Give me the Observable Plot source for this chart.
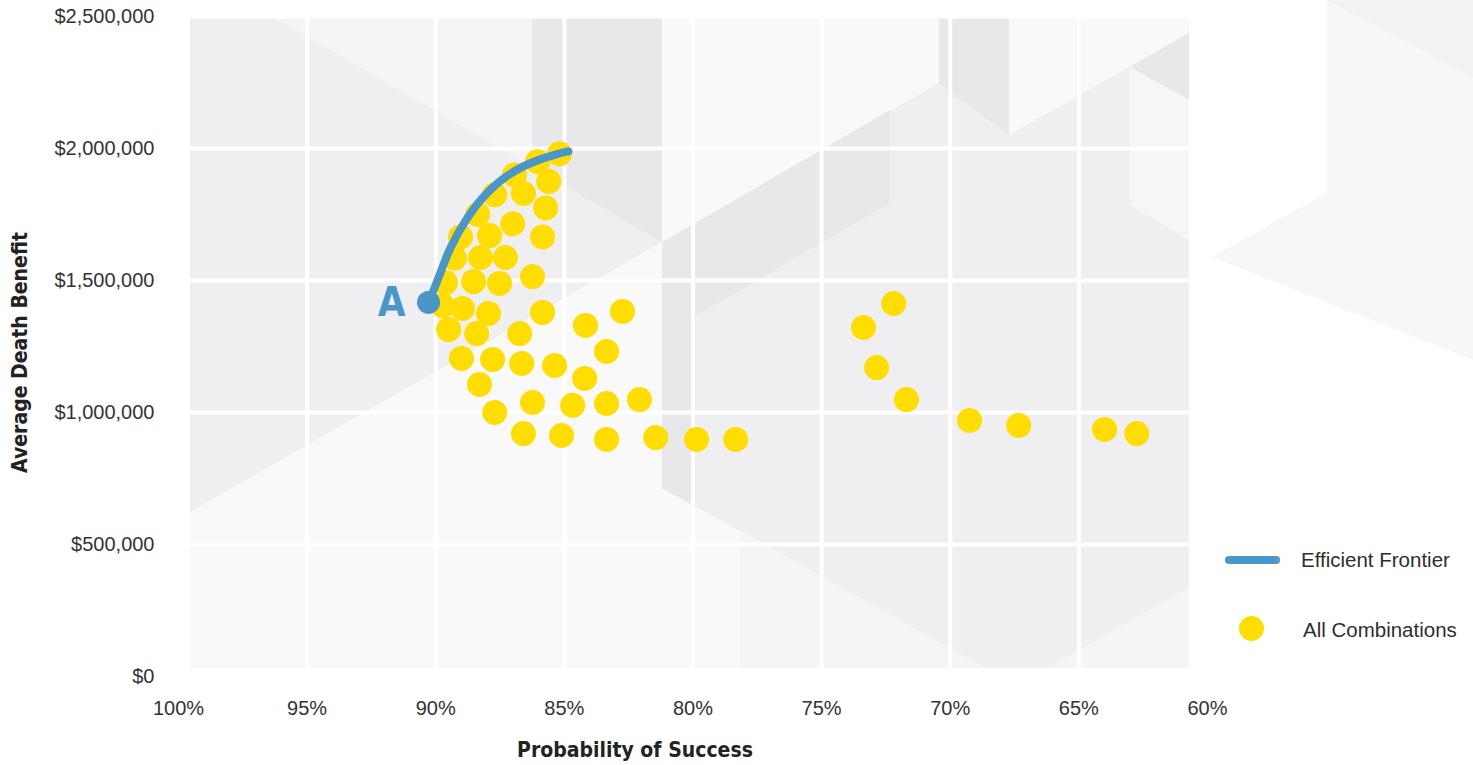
<!DOCTYPE html>
<html>
<head>
<meta charset="utf-8">
<script src="https://cdn.jsdelivr.net/npm/d3@7"></script>
<script src="https://cdn.jsdelivr.net/npm/@observablehq/plot@0.6"></script>
<style>
  html, body { margin: 0; padding: 0; background: #fff; }
  #wrap { position: relative; width: 1473px; height: 765px; overflow: hidden; }
  #deco, #chart { position: absolute; left: 0; top: 0; }
  #chart svg { display: block; }
  .legend { position: absolute; font-family: "Liberation Sans", Arial, sans-serif; font-size: 20.5px; color: #2e2e2e; }
  .swatch-line { position: absolute; width: 55px; height: 8px; border-radius: 4px; background: #4a96c8; }
  .swatch-dot { position: absolute; width: 25px; height: 25px; border-radius: 50%; background: #ffdd00; }
</style>
</head>
<body>
<div id="wrap">
  <!-- faceted grey backdrop behind the chart panel -->
  <svg id="deco" width="1473" height="765" xmlns="http://www.w3.org/2000/svg">
    <defs><clipPath id="panel"><rect x="190" y="15" width="999" height="653"/></clipPath></defs>
    <polygon points="1327,0 1473,0 1473,360 1212,257 1327,193" fill="#f7f7f7"/>
    <polygon points="1327,0 1473,0 1473,77" fill="#f2f2f2"/>
    <g clip-path="url(#panel)">
      <rect x="190" y="15" width="999" height="653" fill="#efeff1"/>
      <polygon points="190,512 662,242 662,488 985,668 190,668" fill="#f9f9f9"/>
      <polygon points="270,15 532,15 532,167" fill="#f5f5f6"/>
      <polygon points="532,15 662,15 662,242 532,167" fill="#e8e8ea"/>
      <polygon points="662,15 939,15 939,83 662,242" fill="#f9f9f9"/>
      <polygon points="939,15 1009,15 1009,135 939,83" fill="#e8e8ea"/>
      <polygon points="1009,15 1189,15 1189,33 1009,135" fill="#f9f9f9"/>
      <polygon points="1130,67 1189,33 1189,100" fill="#e8e8ea"/>
      <polygon points="1130,67 1189,100 1189,240 1130,205" fill="#f6f6f6"/>
      <polygon points="662,242 692,225 692,505 662,488" fill="#e8e8ea"/>
      <polygon points="692,225 890,110 890,203 692,318" fill="#e8e8ea"/>
      <polygon points="740,530 985,668 740,668" fill="#f5f5f5"/>
      <polygon points="1047,668 1189,587 1189,668" fill="#f5f5f5"/>
    </g>
  </svg>
  <div id="chart"></div>
  <div class="swatch-line" style="left:1225px; top:556px;"></div>
  <div class="legend" style="left:1301px; top:548px;">Efficient Frontier</div>
  <div class="swatch-dot" style="left:1239px; top:616px;"></div>
  <div class="legend" style="left:1303px; top:618px;">All Combinations</div>
</div>
<script>
// Axis ticks
const xTicks = [100, 95, 90, 85, 80, 75, 70, 65, 60];
const yTicks = [0, 500000, 1000000, 1500000, 2000000, 2500000];

// Every combination: probability of success (%) and average death benefit ($)
const comboSuccess = [
  85.19, 86.04, 86.94, 85.61, 87.71, 86.59, 85.73, 88.37, 87.01, 85.85,
  89.04, 87.91, 89.27, 88.26, 87.29, 89.62, 88.53, 87.52, 86.24, 89.74,
  88.96, 87.95, 85.85, 89.50, 88.41, 86.74, 84.18, 82.74, 89.00, 87.79,
  86.66, 85.38, 83.36, 88.30, 84.21, 86.24, 84.68, 83.36, 82.08, 87.71,
  86.59, 85.11, 83.36, 81.45, 79.86, 78.34, 72.20, 73.37, 72.86, 71.70,
  69.25, 67.34, 64.00, 62.75
];
const comboBenefit = [
  1980000, 1950000, 1900000, 1875000, 1825000, 1830000, 1775000, 1750000, 1715000, 1665000,
  1665000, 1670000, 1585000, 1587000, 1587000, 1492000, 1496000, 1489000, 1515000, 1405000,
  1394000, 1375000, 1379000, 1314000, 1299000, 1299000, 1330000, 1383000, 1205000, 1201000,
  1186000, 1178000, 1231000, 1106000, 1129000, 1038000, 1027000, 1034000, 1049000, 1000000,
  920000, 913000, 898000, 905000, 898000, 898000, 1413000, 1322000, 1170000, 1049000,
  970000, 951000, 936000, 920000
];

// Efficient frontier, starting at portfolio A
const frontierSuccess = [90.28, 89.89, 89.42, 88.76, 87.99, 87.09, 86.04, 85.03, 84.84];
const frontierBenefit = [1417000, 1511000, 1625000, 1739000, 1833000, 1905000, 1955000, 1985000, 1989000];
const pointLabels = ["A"];

const combos = comboSuccess.map((p, i) => ({p, v: comboBenefit[i]}));
const frontier = frontierSuccess.map((p, i) => ({p, v: frontierBenefit[i]}));
const start = [{...frontier[0], label: pointLabels[0]}];

const blue = "#4a96c8";
const yellow = "#ffdd00";
const narrow = "'Liberation Sans Narrow', 'DejaVu Sans Condensed', 'Liberation Sans', sans-serif";

const chart = Plot.plot({
  width: 1473,
  height: 765,
  marginLeft: 178,
  marginRight: 266,
  marginTop: 16,
  marginBottom: 89,
  style: {background: "transparent", fontFamily: "'Liberation Sans', Arial, sans-serif", fontSize: "20px", color: "#333"},
  x: {domain: [100, 60]},
  y: {domain: [0, 2500000]},
  marks: [
    Plot.gridX(xTicks, {stroke: "white", strokeOpacity: 1, strokeWidth: 4}),
    Plot.gridY(yTicks, {stroke: "white", strokeOpacity: 1, strokeWidth: 4}),
    Plot.axisX({ticks: xTicks, tickFormat: d => d + "%", tickSize: 0, tickPadding: 24, label: null}),
    Plot.axisY({ticks: yTicks, tickFormat: d => "$" + d3.format(",")(d), tickSize: 0, tickPadding: 24, label: null}),
    Plot.dot(combos, {x: "p", y: "v", r: 12.5, fill: yellow}),
    Plot.line(frontier, {x: "p", y: "v", stroke: blue, strokeWidth: 8, curve: "natural", strokeLinecap: "round"}),
    Plot.dot(start, {x: "p", y: "v", r: 11.5, fill: blue}),
    Plot.text(start, {x: "p", y: "v", text: "label", dx: -37, dy: 1, fill: blue, fontSize: 40, fontWeight: "bold", fontFamily: narrow}),
    Plot.text(["Probability of Success"], {frameAnchor: "bottom", textAnchor: "middle", lineAnchor: "middle", dx: -58, dy: 74, fontSize: 21, fontWeight: "bold", fill: "#222", fontFamily: narrow}),
    Plot.text(["Average Death Benefit"], {frameAnchor: "left", textAnchor: "middle", lineAnchor: "middle", dx: -158, dy: 6, rotate: -90, fontSize: 21, fontWeight: "bold", fill: "#222", fontFamily: narrow})
  ]
});
document.getElementById("chart").appendChild(chart);
</script>
</body>
</html>
